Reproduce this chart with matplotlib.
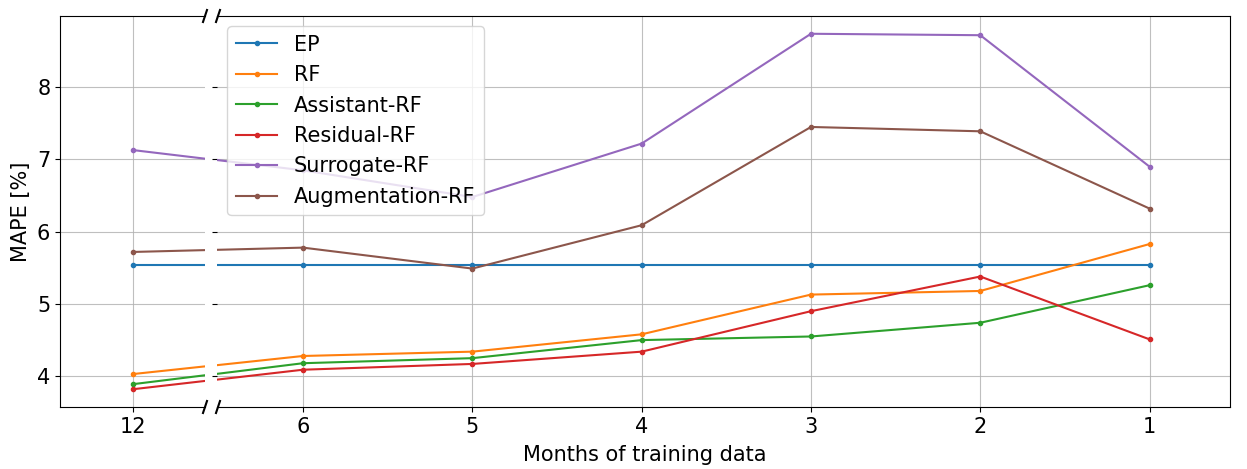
import numpy as np
import matplotlib.pyplot as plt
from matplotlib.lines import Line2D

# Months of training data (12 is shown left of the axis break)
months = ["12", "6", "5", "4", "3", "2", "1"]

ep = [5.54, 5.54, 5.54, 5.54, 5.54, 5.54, 5.54]
rf = [4.03, 4.28, 4.34, 4.58, 5.13, 5.18, 5.83]
assistant_rf = [3.89, 4.18, 4.25, 4.50, 4.55, 4.74, 5.26]
residual_rf = [3.82, 4.09, 4.17, 4.34, 4.90, 5.38, 4.51]
surrogate_rf = [7.13, 6.85, 6.48, 7.22, 8.74, 8.72, 6.90]
augmentation_rf = [5.72, 5.78, 5.49, 6.09, 7.45, 7.39, 6.32]

series = [
    ("EP", ep),
    ("RF", rf),
    ("Assistant-RF", assistant_rf),
    ("Residual-RF", residual_rf),
    ("Surrogate-RF", surrogate_rf),
    ("Augmentation-RF", augmentation_rf),
]

x = np.arange(len(months))

fig = plt.figure(figsize=(12.47, 4.69), dpi=100)
bottom, top = 0.1322, 0.9659
ax1 = fig.add_axes([0.0481, bottom, 0.1163, top - bottom])
ax2 = fig.add_axes([0.1740, bottom, 0.8124, top - bottom], sharey=ax1)

for ax in (ax1, ax2):
    for name, vals in series:
        ax.plot(x, vals, marker='o', markersize=3, linewidth=1.5, label=name)
    ax.grid(True, color='#b0b0b0', linewidth=0.8, alpha=0.8)
    ax.tick_params(labelsize=15)

ax1.set_xlim(-0.431, 0.425)
ax2.set_xlim(0.492, 6.475)
ax1.set_xticks(x[:1])
ax1.set_xticklabels(months[:1])
ax2.set_xticks(x[1:])
ax2.set_xticklabels(months[1:])
ax1.set_yticks([4, 5, 6, 7, 8])

ax1.spines['right'].set_visible(False)
ax2.spines['left'].set_visible(False)
ax2.tick_params(axis='y', labelleft=False)

ax1.set_ylabel("MAPE [%]", fontsize=15)
fig.text((0.0481 + 0.9864) / 2, 0.008, "Months of training data",
         ha='center', va='bottom', fontsize=15)

ax2.legend(loc='upper left', fontsize=15)

# break marks on the x axis
for ypix in (16, 407):
    for xpix in (205, 218):
        fx = [(xpix - 2) / 1247, (xpix + 2) / 1247]
        fy = [1 - (ypix + 6) / 469, 1 - (ypix - 6) / 469]
        fig.add_artist(Line2D(fx, fy, color='k', linewidth=1.5,
                              transform=fig.transFigure, clip_on=False))

fig.savefig("out.png", dpi=100)
